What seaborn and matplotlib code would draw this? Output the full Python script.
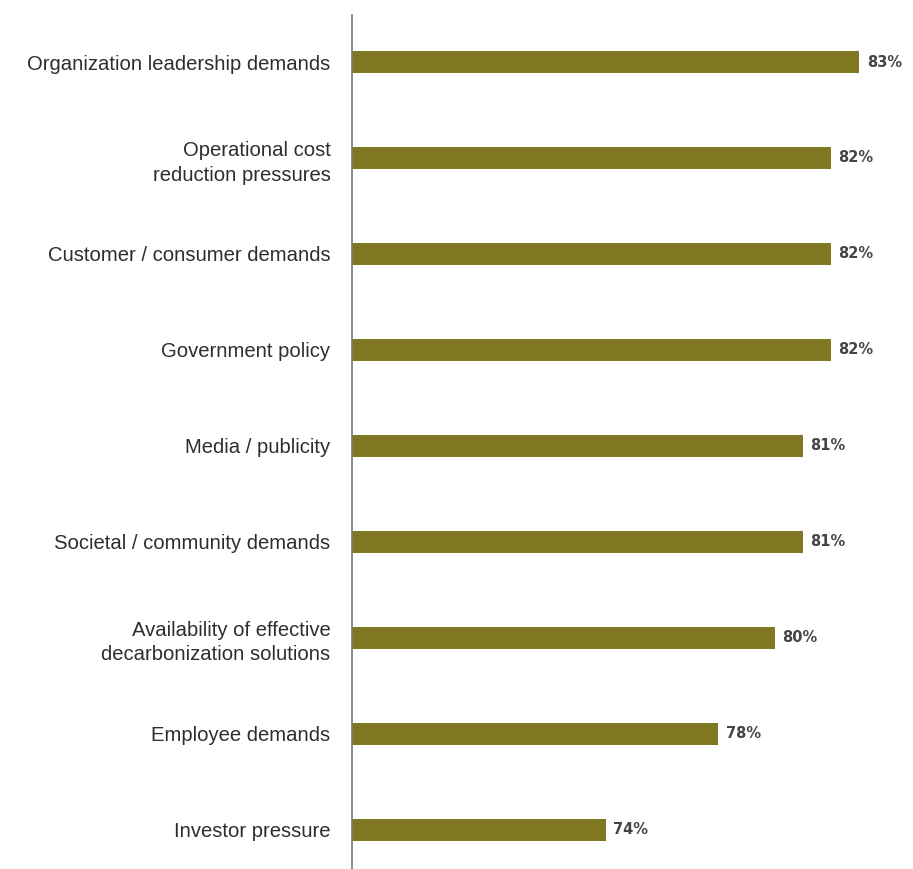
import matplotlib
matplotlib.use("Agg")
import matplotlib.pyplot as plt
import seaborn as sns
import pandas as pd

categories = [
    "Organization leadership demands",
    "Operational cost\nreduction pressures",
    "Customer / consumer demands",
    "Government policy",
    "Media / publicity",
    "Societal / community demands",
    "Availability of effective\ndecarbonization solutions",
    "Employee demands",
    "Investor pressure",
]
values = [83, 82, 82, 82, 81, 81, 80, 78, 74]
value_labels = ["83%", "82%", "82%", "82%", "81%", "81%", "80%", "78%", "74%"]

df = pd.DataFrame({"driver": categories, "share": values})

sns.set_theme(style="white")
plt.rcParams["font.family"] = ["Liberation Sans", "DejaVu Sans"]

W, H = 913, 869
fig = plt.figure(figsize=(W / 100, H / 100), dpi=100)
left_px, top_px = 352, 15
ax = fig.add_axes([left_px / W, 0, (W - left_px) / W, (H - top_px) / H])

bar_color = "#7f7722"
sns.barplot(data=df, x="share", y="driver", orient="h", color=bar_color,
            width=0.23, saturation=1, ax=ax)

xmin = 65
ax.set_xlim(xmin, xmin + (W - left_px) / 28.17)
ax.set_ylim(8.41, -0.49)

# Bars begin at the axis baseline rather than at zero
for patch, v in zip(ax.patches, values):
    patch.set_x(xmin)
    patch.set_width(v - xmin)
    patch.set_edgecolor("none")

for i, (v, lab) in enumerate(zip(values, value_labels)):
    ax.annotate(lab, xy=(v, i), xytext=(5.5, 0), textcoords="offset points",
                va="center", ha="left", fontsize=10.5, fontweight="bold",
                family=["DejaVu Sans"], color="#454545")

ax.set_xlabel("")
ax.set_ylabel("")
ax.set_xticks([])
ax.tick_params(axis="y", length=0, pad=15.5)
for t in ax.get_yticklabels():
    t.set_fontsize(14.6)
    t.set_color("#2e2e2e")
    t.set_multialignment("right")
    t.set_linespacing(1.38)

for side in ["top", "right", "bottom"]:
    ax.spines[side].set_visible(False)
ax.spines["left"].set_color("#777777")
ax.spines["left"].set_linewidth(1.2)

fig.savefig("out.png", dpi=100)
